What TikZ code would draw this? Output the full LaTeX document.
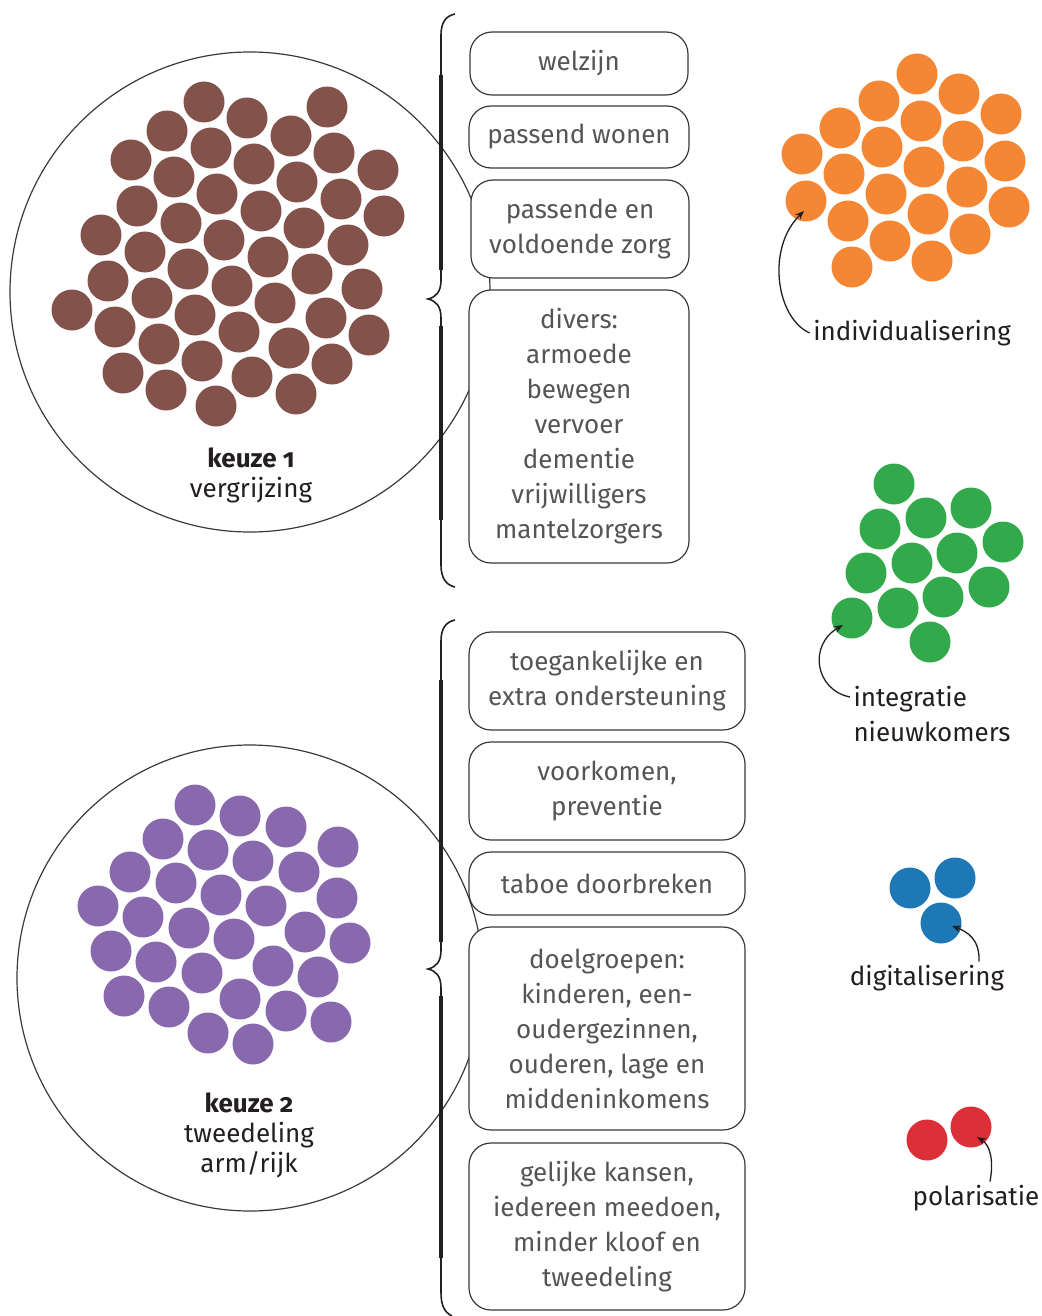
\documentclass[tikz,border=0pt]{standalone}
\usepackage{fontspec}
\setmainfont{Fira Sans}[Numbers=OldStyle]
\usetikzlibrary{arrows.meta}

\definecolor{bruin}{HTML}{83524B}
\definecolor{paars}{HTML}{8869AE}
\definecolor{oranje}{HTML}{F58634}
\definecolor{groen}{HTML}{32AA4B}
\definecolor{blauw}{HTML}{1D78B5}
\definecolor{rood}{HTML}{DC2F37}
\definecolor{grijs}{HTML}{555555}
\definecolor{lijn}{HTML}{3A3A3A}
\definecolor{zwart}{HTML}{231F20}

\begin{document}
\begin{tikzpicture}[x=1pt, y=-1pt,
  blok/.style={draw=lijn, line width=1.2pt, rounded corners=22pt, fill=white,
    text=grijs, align=center, inner sep=0pt, font=\fontsize{26}{35}\selectfont},
  bijschrift/.style={text=zwart, font=\fontsize{26}{35}\selectfont},
  keuze/.style={text=zwart, align=center, font=\fontsize{26}{30}\selectfont},
  rand/.style={circle, draw=lijn, line width=1.2pt, inner sep=0pt},
  pijl/.style={draw=zwart, line width=1.3pt, -{Stealth[length=9pt,width=7pt]}},
  accolade/.style={draw=zwart, line width=1.6pt},
  dik/.style={draw=zwart, line width=4pt}]
 \useasboundingbox (0,0) rectangle (1041,1316);

 % de twee keuzes
 \draw (250, 292) node[rand, minimum size=480pt] (cirkel1) {};
 \draw (250, 978) node[rand, minimum size=466pt] (cirkel2) {};

 \foreach \x/\y in {204/102, 247/118, 327/107, 167/131, 291/136, 211/148, 131/160,
   334/153, 254/164, 378/170, 174/177, 297/182, 217/194, 137/206, 341/199, 261/211,
   384/216, 181/223, 304/228, 101/235, 224/240, 145/252, 348/245, 268/257, 188/269,
   312/274, 108/281, 232/286, 362/289, 152/298, 275/303, 72/310, 195/315, 326/318,
   115/327, 239/332, 369/335, 159/344, 289/348, 202/361, 332/364, 123/373, 252/377,
   166/390, 296/394, 216/406}
   \fill[bruin] (\x, \y) circle (20.5pt);

 \foreach \x/\y in {195/805, 240/816, 286/827, 163/839, 208/850, 253/861, 338/847,
   130/872, 299/872, 176/883, 221/895, 337/898, 98/906, 266/906, 143/917, 189/928,
   305/932, 234/939, 350/943, 111/951, 156/962, 273/966, 202/973, 318/977, 124/996,
   240/999, 169/1007, 286/1011, 331/1022, 208/1033, 253/1044}
   \fill[paars] (\x, \y) circle (20.5pt);

 \draw (251, 475) node[keuze] (keuze1) {\textbf{keuze 1}\\vergrijzing};
 \draw (249, 1135) node[keuze] (keuze2) {\textbf{keuze 2}\\tweedeling\\arm/rijk};

 % accolades
 \draw[accolade] (455, 14) .. controls (446, 16) and (441, 22) .. (441, 35) -- (441, 280)
   .. controls (441, 292) and (436, 297) .. (428, 299)
   .. controls (436, 301) and (441, 306) .. (441, 318) -- (441, 565)
   .. controls (441, 578) and (446, 585) .. (455, 587);
 \draw[dik] (441, 75) -- (441, 270);
 \draw[dik] (441, 326) -- (441, 520);

 \draw[accolade] (455, 620) .. controls (446, 622) and (441, 628) .. (441, 641) -- (441, 950)
   .. controls (441, 962) and (436, 967) .. (428, 969)
   .. controls (436, 971) and (441, 976) .. (441, 988) -- (441, 1292)
   .. controls (441, 1305) and (444, 1312) .. (452, 1316);
 \draw[dik] (441, 680) -- (441, 942);
 \draw[dik] (441, 996) -- (441, 1258);

 % thema's keuze 1
 \draw (579, 63.5) node[blok, minimum width=218pt, minimum height=63pt] (welzijn) {welzijn};
 \draw (579, 137) node[blok, minimum width=220pt, minimum height=62pt] (wonen) {passend wonen};
 \draw (580, 229) node[blok, minimum width=218pt, minimum height=98pt] (zorg) {passende en\\voldoende zorg};
 \draw (579, 426.5) node[blok, minimum width=220pt, minimum height=273pt] (divers)
   {divers:\\armoede\\bewegen\\vervoer\\dementie\\vrijwilligers\\mantelzorgers};

 % thema's keuze 2
 \draw (607, 681) node[blok, minimum width=276pt, minimum height=98pt] (toegang)
   {toegankelijke en\\extra ondersteuning};
 \draw (607, 791) node[blok, minimum width=276pt, minimum height=98pt] (preventie)
   {voorkomen,\\preventie};
 \draw (607, 883.5) node[blok, minimum width=276pt, minimum height=63pt] (taboe) {taboe doorbreken};
 \draw (607, 1028.5) node[blok, minimum width=276pt, minimum height=203pt] (doelgroepen)
   {doelgroepen:\\kinderen, een-\\oudergezinnen,\\ouderen, lage en\\middeninkomens};
 \draw (607, 1226.5) node[blok, minimum width=276pt, minimum height=167pt] (kansen)
   {gelijke kansen,\\iedereen meedoen,\\minder kloof en\\tweedeling};

 % trends
 \foreach \x/\y in {917/74, 959/94, 879/101, 1001/114, 921/121, 840/128, 963/141,
   882/147, 802/154, 1005/161, 924/167, 844/174, 967/187, 886/194, 806/201, 1009/207,
   928/214, 848/221, 970/234, 890/241, 852/267, 932/261}
   \fill[oranje] (\x, \y) circle (20.5pt);
 \foreach \x/\y in {894/484, 971/508, 926/518, 880/529, 1003/542, 957/553, 912/563,
   866/573, 989/587, 943/597, 898/608, 852/618, 930/642}
   \fill[groen] (\x, \y) circle (20.5pt);
 \foreach \x/\y in {910/888, 955/878, 941/923}
   \fill[blauw] (\x, \y) circle (20.5pt);
 \foreach \x/\y in {927/1140, 971/1127}
   \fill[rood] (\x, \y) circle (20.5pt);

 \draw (912, 333) node[bijschrift] (indiv) {individualisering};
 \draw (932, 714.5) node[bijschrift, align=left] (integratie) {integratie\\nieuwkomers};
 \draw (927, 978) node[bijschrift] (digitaal) {digitalisering};
 \draw (976, 1198) node[bijschrift] (polar) {polarisatie};

 \coordinate (oranjepunt) at (804, 211);
 \coordinate (groenpunt) at (843, 625);
 \coordinate (blauwpunt) at (952, 926);
 \coordinate (roodpunt) at (977, 1137);

 \draw[pijl] (indiv.west) .. controls (776, 318) and (766, 248) .. (oranjepunt);
 \draw[pijl] ([yshift=17.5pt]integratie.west) .. controls (815, 690) and (808, 645) .. (groenpunt);
 \draw[pijl] ([xshift=52pt]digitaal.north) .. controls (980, 940) and (968, 932) .. (blauwpunt);
 \draw[pijl] ([xshift=14pt]polar.north) .. controls (994, 1160) and (990, 1145) .. (roodpunt);
\end{tikzpicture}
\end{document}
